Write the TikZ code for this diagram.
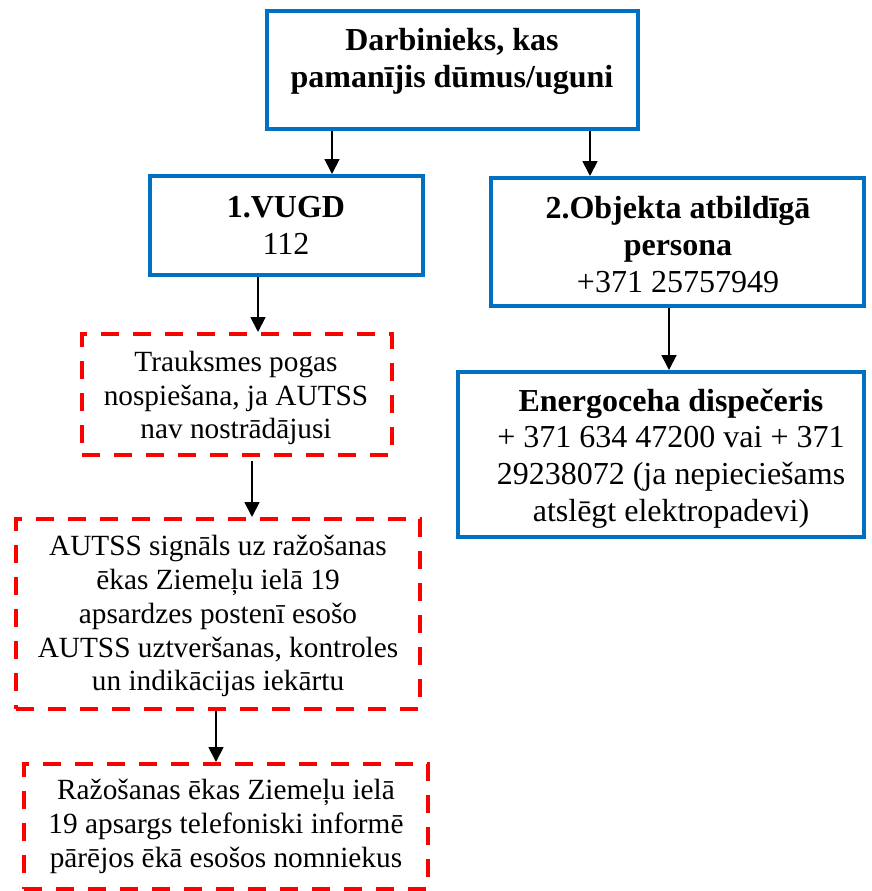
\documentclass[tikz,border=0pt]{standalone}
\usepackage{fontspec}
\setmainfont{Liberation Serif}
\usetikzlibrary{arrows.meta}
\definecolor{wordblue}{RGB}{0,112,192}
\tikzset{
  bluebox/.style={draw=wordblue, line width=4pt, inner sep=0pt},
  redbox/.style={draw=red, line width=4pt, inner sep=0pt, dash pattern=on 18pt off 14pt},
  bigtxt/.style={align=center, inner sep=0pt, font=\fontsize{32}{36.8}\selectfont},
  smalltxt/.style={align=center, inner sep=0pt, font=\fontsize{29.3}{33.7}\selectfont},
  arr/.style={line width=1.8pt, -{Triangle[width=15pt,length=15pt]}},
}
\begin{document}
\begin{tikzpicture}[x=1pt,y=-1pt]
\useasboundingbox (0,0) rectangle (871,891);
% boxes
\node[bluebox, minimum width=371pt, minimum height=118pt] (top) at (452.5,70) {};
\node[bluebox, minimum width=273pt, minimum height=99pt] (vugd) at (286.5,225.5) {};
\node[bluebox, minimum width=373pt, minimum height=128pt] (obj) at (677.5,242) {};
\node[redbox, minimum width=310pt, minimum height=121pt] (trk) at (237,394.5) {};
\node[bluebox, minimum width=406pt, minimum height=165pt] (ener) at (661,454.5) {};
\node[redbox, minimum width=404pt, minimum height=190pt] (aut) at (218,614) {};
\node[redbox, minimum width=404pt, minimum height=125pt] (raz) at (226,826.5) {};
% texts
\node[bigtxt] (toptxt) at (452,61.5) {\strut\textbf{Darbinieks, kas}\\\strut\textbf{pamanījis dūmus/uguni}\strut};
\node[bigtxt] (vugdtxt) at (286,229) {\strut\textbf{1.VUGD}\\\strut 112\strut};
\node[bigtxt] (objtxt) at (678,248) {\strut\textbf{2.Objekta atbildīgā}\\\strut\textbf{persona}\\\strut +371 25757949\strut};
\node[smalltxt] (trktxt) at (236,398.3) {\strut Trauksmes pogas\\\strut nospiešana, ja AUTSS\\\strut nav nostrādājusi\strut};
\node[bigtxt] (enertxt) at (671,459) {\strut\textbf{Energoceha dispečeris}\\\strut + 371 634 47200 vai + 371\\\strut 29238072 (ja nepieciešams\\\strut atslēgt elektropadevi)\strut};
\node[smalltxt] (auttxt) at (218,616.6) {\strut AUTSS signāls uz ražošanas\\\strut ēkas Ziemeļu ielā 19\\\strut apsardzes postenī esošo\\\strut AUTSS uztveršanas, kontroles\\\strut un indikācijas iekārtu\strut};
\node[smalltxt] (raztxt) at (226,826.6) {\strut Ražošanas ēkas Ziemeļu ielā\\\strut 19 apsargs telefoniski informē\\\strut pārējos ēkā esošos nomniekus\strut};
% connectors
\draw[arr] (top.south -| 332,0) -- (vugd.north -| 332,0);
\draw[arr] (top.south -| 590,0) -- (obj.north -| 590,0);
\draw[arr] (vugd.south -| 258,0) -- (trk.north -| 258,0);
\draw[arr] (obj.south -| 669,0) -- (ener.north -| 669,0);
\draw[arr] ([yshift=-4pt]trk.south -| 252,0) -- (aut.north -| 252,0);
\draw[arr] (aut.south -| 216,0) -- (raz.north -| 216,0);
\end{tikzpicture}
\end{document}
